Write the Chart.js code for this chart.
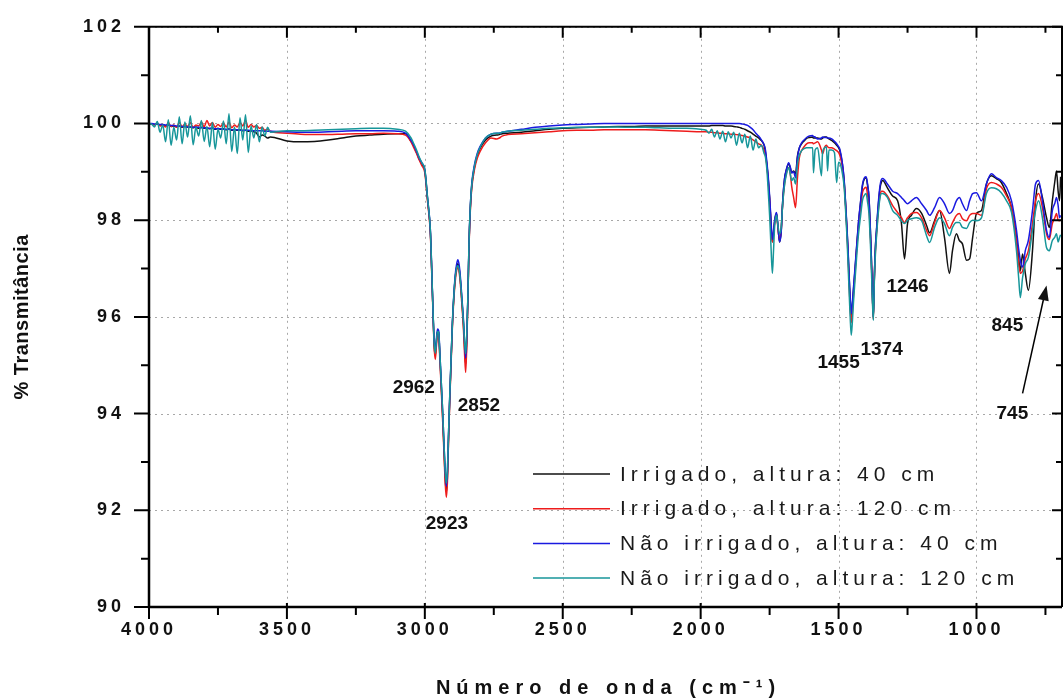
<!DOCTYPE html>
<html>
<head>
<meta charset="utf-8">
<script src="https://cdn.jsdelivr.net/npm/chart.js@4.4.1/dist/chart.umd.min.js"></script>
<style>
  html, body { margin: 0; padding: 0; background: #fff; overflow: hidden; }
</style>
</head>
<body>
<canvas id="ftir" width="1064" height="700"></canvas>
<script>
// wavenumbers (cm-1), high to low
const wavenumbers = [
  4000, 3990, 3980, 3970, 3960, 3950, 3940, 3930, 3920, 3910,
  3900, 3890, 3880, 3870, 3860, 3850, 3840, 3830, 3820, 3810,
  3800, 3790, 3780, 3770, 3760, 3750, 3740, 3730, 3720, 3710,
  3700, 3690, 3680, 3670, 3660, 3650, 3640, 3630, 3620, 3610,
  3600, 3590, 3580, 3570, 3560,
  3500, 3450, 3400, 3350, 3300, 3250, 3200, 3150, 3100,
  3070, 3050, 3040, 3030, 3020, 3010, 3000, 2990, 2980, 2975,
  2970, 2966, 2962, 2958, 2954, 2950, 2945, 2940, 2935, 2930,
  2926, 2922, 2918, 2914, 2910, 2905, 2900, 2895, 2890, 2885,
  2880, 2875, 2870, 2865, 2860, 2856, 2852, 2848, 2844, 2840,
  2835, 2830, 2820, 2810, 2800, 2780, 2760, 2740, 2730, 2720,
  2700,
  2650, 2600, 2550, 2500, 2450, 2400, 2350, 2300, 2250, 2200, 2150, 2100, 2050, 2000,
  1980, 1970, 1960, 1950, 1940, 1930, 1920, 1910, 1900, 1890,
  1880, 1870, 1860, 1850, 1840, 1830, 1820, 1810, 1800, 1790,
  1780, 1770,
  1765, 1760, 1755, 1750, 1745, 1740, 1736, 1732, 1728, 1725,
  1720, 1714, 1708, 1703, 1696, 1689, 1681, 1675, 1670, 1663,
  1656, 1649, 1642, 1634, 1625, 1616, 1606, 1594, 1591, 1585,
  1576, 1562, 1558, 1550, 1544, 1540, 1535, 1525, 1515, 1507,
  1500, 1496, 1486, 1480, 1475, 1470, 1466, 1462, 1458, 1454,
  1450, 1446, 1440, 1435, 1428, 1420, 1413, 1406, 1400, 1395,
  1390, 1386, 1382, 1378, 1374, 1370, 1366, 1362, 1356, 1350,
  1344, 1340,
  1323, 1304, 1286, 1272, 1261, 1250, 1236, 1218, 1199, 1181,
  1170, 1152, 1134, 1116, 1098, 1087, 1073, 1062, 1051, 1036,
  1025, 1014, 1000, 982, 964, 946, 928, 910, 891, 873,
  855, 847, 841, 833, 823, 812, 797, 786, 775, 761,
  746, 736, 725, 716, 710, 704, 699, 695
];

// Irrigado, altura: 40 cm (black)
const irrigado40 = [
  100.00, 99.99, 99.98, 99.99, 99.96, 99.97, 99.95, 99.97, 99.94, 99.95,
  99.93, 99.95, 99.92, 99.94, 99.92, 99.93, 99.91, 99.93, 99.90, 99.92,
  99.90, 99.91, 99.89, 99.91, 99.88, 99.90, 99.88, 99.89, 99.87, 99.89,
  99.86, 99.88, 99.86, 99.87, 99.85, 99.86, 99.84, 99.85, 99.83, 99.80,
  99.72, 99.76, 99.74, 99.70, 99.72,
  99.64, 99.62, 99.63, 99.66, 99.70, 99.74, 99.76, 99.78, 99.79,
  99.79, 99.63, 99.53, 99.40, 99.26, 99.15, 99.02, 98.42, 97.76, 96.95,
  96.05, 95.40, 95.20, 95.48, 95.70, 95.68, 95.12, 94.52, 93.90, 93.20,
  92.65, 92.38, 92.70, 93.50, 94.25, 95.05, 95.85, 96.40, 96.80, 97.02,
  97.10, 96.98, 96.68, 96.28, 95.85, 95.38, 95.02, 95.50, 96.35, 97.45,
  98.25, 98.70, 99.10, 99.33, 99.48, 99.66, 99.74, 99.76, 99.77, 99.79,
  99.80,
  99.82, 99.85, 99.88, 99.90, 99.91, 99.92, 99.93, 99.94, 99.94, 99.95, 99.95, 99.95, 99.95, 99.95,
  99.95, 99.95, 99.96, 99.96, 99.96, 99.96, 99.96, 99.95, 99.95, 99.95,
  99.94, 99.93, 99.92, 99.90, 99.88, 99.85, 99.82, 99.78, 99.74, 99.70,
  99.65, 99.55,
  99.40, 99.15, 98.85, 98.45, 97.95, 97.55, 97.70, 97.95, 98.10, 98.14,
  97.88, 97.55, 97.78, 98.35, 98.85, 99.05, 99.17, 99.08, 98.98, 99.02,
  98.96, 99.33, 99.50, 99.58, 99.64, 99.69, 99.71, 99.72, 99.70, 99.70,
  99.70, 99.68, 99.70, 99.72, 99.72, 99.70, 99.68, 99.65, 99.60, 99.55,
  99.50, 99.45, 99.15, 98.82, 98.38, 97.85, 97.40, 96.85, 96.35, 96.00,
  96.25, 96.55, 97.00, 97.40, 97.92, 98.38, 98.72, 98.86, 98.88, 98.72,
  98.48, 97.98, 97.38, 96.60, 95.98, 96.88, 97.48, 97.82, 98.30, 98.65,
  98.80, 98.82,
  98.67, 98.50, 98.40, 97.93, 97.20, 97.93, 98.10, 98.24, 98.14, 97.89,
  97.74, 97.99, 98.20, 97.64, 96.90, 97.37, 97.72, 97.58, 97.51, 97.17,
  97.20, 97.64, 98.14, 98.20, 98.75, 98.92, 98.86, 98.78, 98.55, 98.26,
  97.64, 97.20, 96.95, 97.30, 96.90, 96.55, 97.37, 98.40, 98.75, 98.47,
  98.05, 97.85, 98.40, 98.80, 99.02, 98.60, 98.40, 98.90
];

// Irrigado, altura: 120 cm (red)
const irrigado120 = [
  100.00, 99.99, 99.97, 100.01, 99.95, 99.98, 99.93, 100.02, 99.94, 99.97,
  99.92, 100.03, 99.93, 99.99, 99.94, 100.02, 99.92, 99.97, 99.95, 100.03,
  99.93, 100.06, 99.95, 100.02, 99.92, 99.98, 99.94, 100.01, 99.93, 100.03,
  99.91, 99.97, 99.93, 100.02, 99.95, 100.06, 99.92, 99.98, 99.93, 99.96,
  99.90, 99.92, 99.86, 99.88, 99.84,
  99.80, 99.78, 99.77, 99.77, 99.78, 99.79, 99.79, 99.80, 99.79,
  99.76, 99.62, 99.50, 99.38, 99.24, 99.12, 98.98, 98.38, 97.72, 96.90,
  96.00, 95.35, 95.12, 95.40, 95.62, 95.60, 95.05, 94.45, 93.80, 93.10,
  92.55, 92.27, 92.60, 93.45, 94.20, 95.00, 95.80, 96.35, 96.72, 96.95,
  97.02, 96.90, 96.60, 96.20, 95.75, 95.25, 94.85, 95.40, 96.30, 97.40,
  98.20, 98.65, 99.05, 99.28, 99.42, 99.60, 99.70, 99.68, 99.70, 99.74,
  99.77,
  99.79, 99.81, 99.83, 99.85, 99.86, 99.86, 99.87, 99.87, 99.87, 99.87, 99.86, 99.85, 99.84, 99.83,
  99.83, 99.82, 99.82, 99.81, 99.81, 99.80, 99.80, 99.79, 99.79, 99.78,
  99.78, 99.77, 99.76, 99.75, 99.74, 99.72, 99.70, 99.66, 99.62, 99.58,
  99.55, 99.45,
  99.35, 99.12, 98.82, 98.42, 97.92, 97.55, 97.72, 97.95, 98.08, 98.10,
  97.85, 97.60, 97.80, 98.30, 98.75, 98.98, 99.08, 98.95, 98.70, 98.47,
  98.26, 98.88, 99.30, 99.44, 99.52, 99.58, 99.60, 99.60, 99.58, 99.60,
  99.62, 99.45, 99.37, 99.52, 99.55, 99.52, 99.50, 99.50, 99.47, 99.44,
  99.40, 99.35, 99.10, 98.78, 98.32, 97.80, 97.30, 96.72, 96.20, 95.88,
  96.10, 96.45, 96.92, 97.35, 97.85, 98.28, 98.58, 98.66, 98.68, 98.52,
  98.30, 97.85, 97.30, 96.55, 95.95, 96.85, 97.42, 97.75, 98.20, 98.50,
  98.60, 98.60,
  98.50, 98.30, 98.16, 98.05, 97.95, 98.05, 98.14, 98.16, 98.05, 97.79,
  97.68, 97.95, 98.20, 98.05, 97.83, 97.95, 98.10, 98.14, 98.03, 97.99,
  98.10, 98.14, 98.14, 98.10, 98.65, 98.78, 98.75, 98.68, 98.50, 98.26,
  97.58, 97.10, 96.90, 96.95, 97.20, 97.37, 97.93, 98.40, 98.55, 98.26,
  97.72, 97.60, 97.93, 98.05, 98.14, 98.00, 97.99, 98.00
];

// Nao irrigado, altura: 40 cm (blue)
const naoIrrigado40 = [
  100.00, 100.00, 99.99, 99.99, 99.98, 99.98, 99.97, 99.97, 99.96, 99.96,
  99.95, 99.95, 99.94, 99.94, 99.93, 99.93, 99.92, 99.92, 99.92, 99.91,
  99.91, 99.90, 99.90, 99.90, 99.89, 99.89, 99.89, 99.88, 99.88, 99.88,
  99.87, 99.87, 99.87, 99.86, 99.86, 99.86, 99.86, 99.85, 99.85, 99.85,
  99.85, 99.85, 99.84, 99.84, 99.84,
  99.83, 99.82, 99.82, 99.83, 99.84, 99.85, 99.85, 99.85, 99.84,
  99.80, 99.65, 99.55, 99.42, 99.28, 99.18, 99.05, 98.45, 97.80, 97.00,
  96.05, 95.50, 95.30, 95.55, 95.75, 95.72, 95.20, 94.60, 94.00, 93.30,
  92.80, 92.50, 92.80, 93.60, 94.30, 95.10, 95.90, 96.45, 96.85, 97.08,
  97.18, 97.05, 96.75, 96.35, 95.95, 95.50, 95.15, 95.60, 96.40, 97.50,
  98.30, 98.75, 99.15, 99.38, 99.52, 99.70, 99.78, 99.80, 99.80, 99.82,
  99.84,
  99.88, 99.92, 99.95, 99.97, 99.98, 99.99, 100.00, 100.00, 100.00, 100.00, 100.00, 100.00, 100.00, 100.00,
  100.00, 100.00, 100.00, 100.00, 100.00, 100.00, 100.00, 100.00, 100.00, 100.00,
  100.00, 100.00, 100.00, 99.99, 99.98, 99.96, 99.92, 99.87, 99.80, 99.74,
  99.66, 99.56,
  99.45, 99.20, 98.90, 98.50, 98.00, 97.60, 97.75, 98.00, 98.12, 98.16,
  97.90, 97.55, 97.75, 98.35, 98.85, 99.05, 99.19, 99.10, 98.98, 99.00,
  98.88, 99.30, 99.50, 99.60, 99.66, 99.71, 99.74, 99.75, 99.73, 99.72,
  99.68, 99.70, 99.72, 99.71, 99.71, 99.70, 99.70, 99.68, 99.63, 99.58,
  99.52, 99.48, 99.17, 98.85, 98.40, 97.90, 97.45, 96.90, 96.40, 96.07,
  96.30, 96.60, 97.05, 97.43, 97.95, 98.40, 98.75, 98.88, 98.90, 98.75,
  98.50, 98.00, 97.40, 96.60, 96.00, 96.90, 97.50, 97.85, 98.35, 98.70,
  98.85, 98.86,
  98.75, 98.60, 98.55, 98.47, 98.40, 98.34, 98.40, 98.47, 98.34, 98.20,
  98.10, 98.26, 98.47, 98.34, 98.14, 98.20, 98.40, 98.47, 98.34, 98.20,
  98.40, 98.55, 98.57, 98.40, 98.75, 98.96, 98.88, 98.82, 98.68, 98.40,
  97.79, 97.40, 97.17, 97.03, 97.37, 97.58, 98.20, 98.75, 98.82, 98.40,
  97.79, 97.64, 98.20, 98.35, 98.47, 98.30, 98.05, 98.10
];

// Nao irrigado, altura: 120 cm (teal)
const naoIrrigado120 = [
  100.00, 99.98, 99.93, 100.04, 99.82, 99.97, 99.62, 100.08, 99.55, 99.92,
  99.66, 100.14, 99.58, 100.03, 99.72, 100.16, 99.56, 99.92, 99.74, 100.06,
  99.63, 99.94, 99.52, 100.02, 99.47, 99.88, 99.70, 100.05, 99.58, 100.20,
  99.42, 99.93, 99.38, 100.12, 99.66, 100.18, 99.40, 99.95, 99.70, 99.98,
  99.62, 99.93, 99.74, 99.92, 99.82,
  99.85, 99.85, 99.86, 99.87, 99.88, 99.89, 99.90, 99.90, 99.88,
  99.84, 99.70, 99.58, 99.45, 99.30, 99.18, 99.05, 98.45, 97.80, 96.98,
  96.08, 95.45, 95.25, 95.50, 95.70, 95.68, 95.18, 94.60, 94.00, 93.30,
  92.80, 92.56, 92.85, 93.60, 94.30, 95.10, 95.88, 96.42, 96.80, 97.00,
  97.06, 96.95, 96.68, 96.30, 95.90, 95.50, 95.24, 95.65, 96.40, 97.50,
  98.30, 98.72, 99.12, 99.36, 99.50, 99.70, 99.78, 99.80, 99.80, 99.82,
  99.84,
  99.86, 99.88, 99.90, 99.91, 99.92, 99.92, 99.93, 99.93, 99.92, 99.92, 99.91, 99.90, 99.90, 99.88,
  99.86, 99.80, 99.88, 99.72, 99.85, 99.68, 99.84, 99.62, 99.83, 99.70,
  99.82, 99.55, 99.80, 99.60, 99.78, 99.50, 99.74, 99.45, 99.68, 99.50,
  99.55, 99.38,
  99.30, 99.05, 98.60, 98.10, 97.45, 96.90, 97.35, 97.85, 98.05, 98.10,
  97.90, 97.72, 97.85, 98.30, 98.72, 98.95, 99.09, 98.95, 98.82, 98.88,
  98.75, 99.17, 99.35, 99.44, 99.48, 99.50, 99.50, 99.50, 98.98, 99.45,
  99.50, 98.92, 99.40, 99.50, 99.52, 99.02, 99.45, 99.45, 99.40, 98.78,
  99.20, 99.19, 98.96, 98.70, 98.25, 97.70, 97.15, 96.55, 96.00, 95.62,
  95.90, 96.30, 96.80, 97.20, 97.70, 98.10, 98.42, 98.52, 98.55, 98.38,
  98.15, 97.70, 97.15, 96.45, 95.93, 96.80, 97.35, 97.70, 98.15, 98.45,
  98.55, 98.55,
  98.47, 98.20, 98.10, 97.99, 97.93, 98.00, 98.03, 98.05, 97.99, 97.68,
  97.54, 97.85, 98.05, 97.93, 97.68, 97.85, 97.95, 97.95, 97.85, 97.83,
  97.95, 98.00, 97.99, 98.05, 98.55, 98.67, 98.65, 98.57, 98.40, 98.16,
  97.37, 96.80, 96.40, 96.81, 97.10, 97.23, 97.79, 98.20, 98.40, 98.05,
  97.43, 97.37, 97.58, 97.65, 97.72, 97.55, 97.64, 97.70
];

const seriesLabels = [
  'Irrigado, altura: 40 cm',
  'Irrigado, altura: 120 cm',
  'Não irrigado, altura: 40 cm',
  'Não irrigado, altura: 120 cm'
];
const seriesColors = ['#111111', '#ee1c1c', '#1a1ae0', '#17969a'];

const xTickValues = [4000, 3500, 3000, 2500, 2000, 1500, 1000];
const xMinorValues = [3750, 3250, 2750, 2250, 1750, 1250, 750];
const yTickValues = [90, 92, 94, 96, 98, 100, 102];
const yMinorValues = [91, 93, 95, 97, 99, 101];

// peak labels, placed in data coordinates
const peakLabels = [
  { text: '2962', x: 3040, y: 94.54 },
  { text: '2852', x: 2804, y: 94.17 },
  { text: '2923', x: 2920, y: 91.73 },
  { text: '1455', x: 1500, y: 95.06 },
  { text: '1374', x: 1344, y: 95.31 },
  { text: '1246', x: 1250, y: 96.63 },
  { text: '845', x: 888, y: 95.82 },
  { text: '745', x: 870, y: 94.0 }
];
const arrow745 = { from: [833, 94.42], to: [746, 96.65] };

const allSeries = [irrigado40, irrigado120, naoIrrigado40, naoIrrigado120];
allSeries.forEach((s, i) => {
  if (s.length !== wavenumbers.length) throw new Error('series ' + i + ' has ' + s.length + ' values, expected ' + wavenumbers.length);
});

const fontFamily = '"Liberation Sans", Arial, sans-serif';

const decor = {
  id: 'decor',
  beforeDraw(chart) {
    // spaced-out tick labels like the original plot
    chart.ctx.letterSpacing = '4px';
  },
  beforeDatasetsDraw(chart) {
    const { ctx, chartArea: a, scales: { x, y } } = chart;
    ctx.letterSpacing = '0px';
    ctx.save();
    ctx.strokeStyle = '#a8a8a8';
    ctx.lineWidth = 1;
    ctx.setLineDash([2, 4]);
    ctx.beginPath();
    for (const v of xTickValues) {
      const px = Math.round(x.getPixelForValue(v)) + 0.5;
      ctx.moveTo(px, a.top);
      ctx.lineTo(px, a.bottom);
    }
    for (const v of yTickValues) {
      const py = Math.round(y.getPixelForValue(v)) + 0.5;
      ctx.moveTo(a.left, py);
      ctx.lineTo(a.right, py);
    }
    ctx.stroke();
    ctx.restore();
  },
  afterDatasetsDraw(chart) {
    const { ctx, chartArea: a, scales: { x, y } } = chart;
    ctx.save();
    ctx.letterSpacing = '0px';
    ctx.strokeStyle = '#000';

    // frame
    ctx.lineWidth = 2.5;
    ctx.beginPath();
    ctx.moveTo(a.left, a.top);
    ctx.lineTo(a.left, a.bottom);
    ctx.lineTo(a.right, a.bottom);
    ctx.stroke();
    ctx.lineWidth = 2;
    ctx.beginPath();
    ctx.moveTo(a.left, a.top);
    ctx.lineTo(a.right, a.top);
    ctx.lineTo(a.right, a.bottom);
    ctx.stroke();

    // tick marks
    const seg = (x1, y1, x2, y2) => { ctx.moveTo(x1, y1); ctx.lineTo(x2, y2); };
    ctx.lineWidth = 2;
    ctx.beginPath();
    for (const v of xTickValues) {
      const px = x.getPixelForValue(v);
      seg(px, a.bottom - 4, px, a.bottom + 12);
      seg(px, a.top, px, a.top + 11);
    }
    for (const v of xMinorValues) {
      const px = x.getPixelForValue(v);
      seg(px, a.bottom, px, a.bottom + 8);
      seg(px, a.top, px, a.top + 6);
    }
    for (const v of yTickValues) {
      const py = y.getPixelForValue(v);
      seg(a.left - 15, py, a.left, py);
      seg(a.right - 10, py, a.right, py);
    }
    for (const v of yMinorValues) {
      const py = y.getPixelForValue(v);
      seg(a.left - 8, py, a.left, py);
      seg(a.right - 6, py, a.right, py);
    }
    ctx.stroke();

    // peak labels
    ctx.fillStyle = '#111';
    ctx.font = `bold 19px ${fontFamily}`;
    ctx.textAlign = 'center';
    ctx.textBaseline = 'middle';
    for (const p of peakLabels) {
      ctx.fillText(p.text, x.getPixelForValue(p.x), y.getPixelForValue(p.y));
    }

    // arrow to 745
    const x1 = x.getPixelForValue(arrow745.from[0]), y1 = y.getPixelForValue(arrow745.from[1]);
    const x2 = x.getPixelForValue(arrow745.to[0]), y2 = y.getPixelForValue(arrow745.to[1]);
    const ang = Math.atan2(y2 - y1, x2 - x1);
    ctx.lineWidth = 1.5;
    ctx.beginPath();
    ctx.moveTo(x1, y1);
    ctx.lineTo(x2 - 10 * Math.cos(ang), y2 - 10 * Math.sin(ang));
    ctx.stroke();
    ctx.beginPath();
    ctx.moveTo(x2, y2);
    ctx.lineTo(x2 - 15 * Math.cos(ang) + 5.5 * Math.sin(ang), y2 - 15 * Math.sin(ang) - 5.5 * Math.cos(ang));
    ctx.lineTo(x2 - 15 * Math.cos(ang) - 5.5 * Math.sin(ang), y2 - 15 * Math.sin(ang) + 5.5 * Math.cos(ang));
    ctx.closePath();
    ctx.fill();

    // legend inside the plot
    ctx.font = `21px ${fontFamily}`;
    ctx.letterSpacing = '5px';
    ctx.textAlign = 'left';
    chart.data.datasets.forEach((ds, i) => {
      const ly = a.bottom - 133 + i * 34.7;
      ctx.strokeStyle = ds.borderColor;
      ctx.lineWidth = 1.5;
      ctx.beginPath();
      ctx.moveTo(a.left + 384, ly);
      ctx.lineTo(a.left + 461, ly);
      ctx.stroke();
      ctx.fillStyle = '#1a1a1a';
      ctx.fillText(ds.label, a.left + 471, ly + 1);
    });

    // axis titles
    ctx.fillStyle = '#111';
    ctx.textAlign = 'center';
    ctx.font = `bold 20px ${fontFamily}`;
    ctx.letterSpacing = '6px';
    ctx.fillText('Número de onda (cm⁻¹)', (a.left + a.right) / 2 + 3, 688);
    ctx.letterSpacing = '0.5px';
    ctx.font = `bold 20px ${fontFamily}`;
    ctx.translate(22, (a.top + a.bottom) / 2);
    ctx.rotate(-Math.PI / 2);
    ctx.fillText('% Transmitância', 0, 0);
    ctx.restore();
  }
};

const datasets = allSeries.map((s, i) => ({
  label: seriesLabels[i],
  data: wavenumbers.map((w, j) => ({ x: w, y: s[j] })),
  borderColor: seriesColors[i],
  borderWidth: 1.5,
  pointRadius: 0,
  fill: false,
  cubicInterpolationMode: 'monotone',
  order: 3 - i
}));

const tickFont = { family: fontFamily, size: 18, weight: 'bold' };

new Chart(document.getElementById('ftir').getContext('2d'), {
  type: 'line',
  data: { datasets },
  options: {
    responsive: false,
    devicePixelRatio: 1,
    animation: false,
    layout: { padding: { left: 0, right: 2, top: 21, bottom: 0 } },
    plugins: { legend: { display: false }, tooltip: { enabled: false } },
    scales: {
      x: {
        type: 'linear',
        reverse: true,
        min: 690,
        max: 4000,
        afterBuildTicks: s => { s.ticks = xTickValues.map(v => ({ value: v })); },
        afterFit: s => { s.height = 93; },
        grid: { display: false },
        border: { display: false },
        ticks: { font: tickFont, color: '#111', padding: 4, maxRotation: 0, autoSkip: false, callback: v => String(v) }
      },
      y: {
        min: 90,
        max: 102,
        afterBuildTicks: s => { s.ticks = yTickValues.map(v => ({ value: v })); },
        afterFit: s => { s.width = 149; },
        grid: { display: false },
        border: { display: false },
        ticks: { font: tickFont, color: '#111', padding: 16, callback: v => String(v) }
      }
    }
  },
  plugins: [decor]
});
</script>
</body>
</html>
